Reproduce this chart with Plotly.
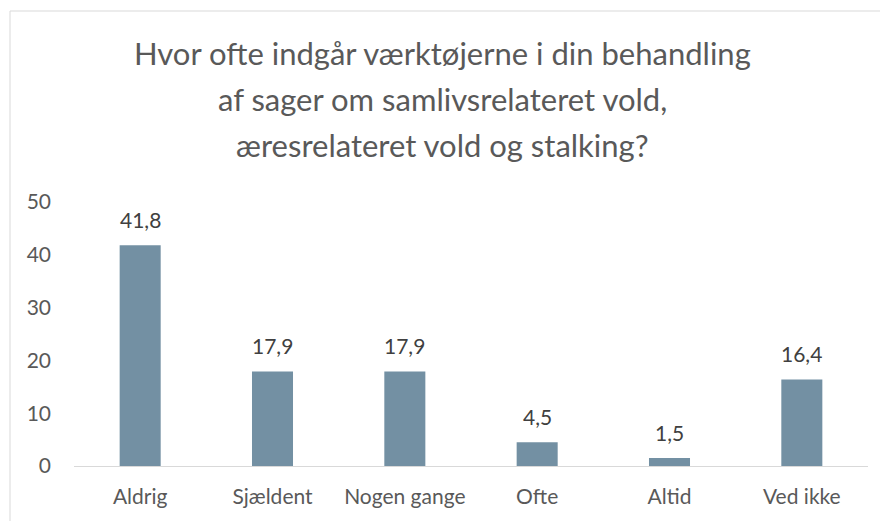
import plotly.graph_objects as go

categories = ["Aldrig", "Sjældent", "Nogen gange", "Ofte", "Altid", "Ved ikke"]
values = [41.8, 17.9, 17.9, 4.5, 1.5, 16.4]
y_ticks = [0, 10, 20, 30, 40, 50]
title_lines = ["Hvor ofte indgår værktøjerne i din behandling",
               "af sager om samlivsrelateret vold,",
               "æresrelateret vold og stalking?"]

FONT = "Lato, 'Open Sans', sans-serif"
BAR = "#7390a3"
GREY = "#595959"

# page body has an 8px margin; positions below are in figure coordinates
W, H = 888, 521
ml, mr, mt, mb = 66, 28, 194, 63
pw, ph = W - ml - mr, H - mt - mb

def px_x(p):
    return (p - ml) / pw

def px_y(p):
    return (H - mb - p) / ph

fig = go.Figure(go.Bar(
    x=categories, y=values,
    marker=dict(color=BAR, line=dict(width=0)),
    hoverinfo="x+y",
))

annotations = []
for c, v in zip(categories, values):
    annotations.append(dict(
        x=c, y=v, xref="x", yref="y", text=f"{v:.1f}".replace(".", ","),
        showarrow=False, yanchor="bottom", yshift=11,
        font=dict(family=FONT, size=21, color="#404040")))

title_baselines = [58, 104, 150]
for line, b in zip(title_lines, title_baselines):
    annotations.append(dict(
        x=px_x(434), xref="paper", y=px_y(b), yref="paper", text=line,
        showarrow=False, xanchor="center", yanchor="bottom", yshift=-8,
        font=dict(family=FONT, size=31, color=GREY)))

fig.update_layout(
    width=W, height=H,
    margin=dict(l=ml, r=mr, t=mt, b=mb, autoexpand=False),
    paper_bgcolor="white", plot_bgcolor="white",
    separators=",.",
    showlegend=False,
    bargap=0.69,
    font=dict(family=FONT, color=GREY),
    xaxis=dict(showgrid=False, showline=True, linecolor="#d9d9d9", linewidth=1,
               ticks="", ticklabelstandoff=12,
               tickfont=dict(family=FONT, size=21, color=GREY)),
    yaxis=dict(range=[0, 50], tickvals=y_ticks, showgrid=False, zeroline=False,
               showline=False, ticks="", ticklabelstandoff=22,
               tickfont=dict(family=FONT, size=21, color=GREY)),
    annotations=annotations,
    shapes=[dict(type="rect", xref="paper", yref="paper",
                 x0=px_x(2), x1=px_x(900), y0=px_y(540), y1=px_y(3),
                 line=dict(color="#d9d9d9", width=1), fillcolor="rgba(0,0,0,0)",
                 layer="below")],
)

fig.write_html("out.html")
